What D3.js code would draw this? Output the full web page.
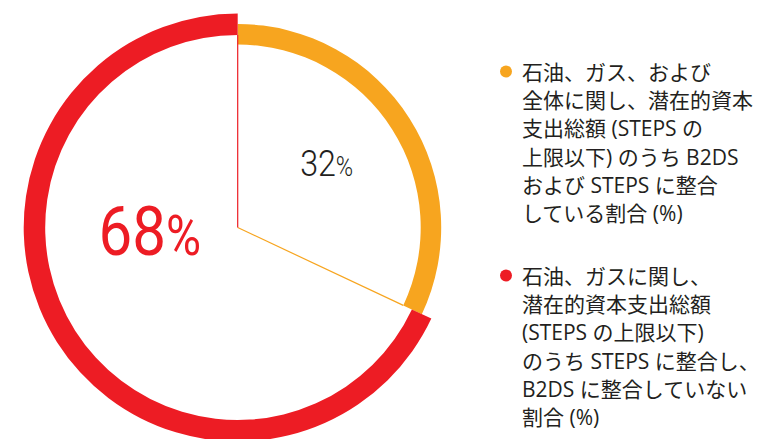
<!DOCTYPE html>
<html>
<head>
<meta charset="utf-8">
<script src="https://cdn.jsdelivr.net/npm/d3@7/dist/d3.min.js"></script>
<style>
  html, body { margin: 0; padding: 0; background: #fff; }
  svg { display: block; }
  .legend text { font-family: "Open Sans", "Noto Sans CJK JP", sans-serif; font-size: 21px; fill: #231f20; }
  .pct { font-family: Roboto, "Liberation Sans", sans-serif; }
</style>
</head>
<body>
<div id="chart"></div>
<script>
// data
var categories = ["B2DS+STEPS", "STEPS only"];
var values = [32, 68];
var colors = ["#f7a51f", "#ed1c24"];
var legendLines = [
  ["石油、ガス、および", "全体に関し、潜在的資本", "支出総額 (STEPS の", "上限以下) のうち B2DS", "および STEPS に整合", "している割合 (%)"],
  ["石油、ガスに関し、", "潜在的資本支出総額", "(STEPS の上限以下)", "のうち STEPS に整合し、", "B2DS に整合していない", "割合 (%)"]
];

const width = 762, height = 439;
const cx = 237.7, cy = 227.5;
// ring radii per slice [inner, outer]
const rings = [[183, 203.5], [192.5, 214]];
// label placement (angle in degrees from north, radius, font sizes, colour)
const labelPos = [
  { ang: 54, r: 110, big: 37, small: 27, weight: 300, fill: "#231f20" },
  { ang: 268, r: 88, big: 69, small: 55, weight: 400, fill: "#ed1c24" }
];

const svg = d3.select("#chart").append("svg")
  .attr("width", width)
  .attr("height", height);

const g = svg.append("g")
  .attr("transform", "translate(" + cx + "," + cy + ")");

const pie = d3.pie().sort(null).value(function(d) { return d; });
const arcs = pie(values);

// thick outer rings
g.selectAll("path.ring")
  .data(arcs)
  .enter()
  .append("path")
  .attr("class", "ring")
  .attr("fill", function(d, i) { return colors[i]; })
  .attr("d", function(d, i) {
    return d3.arc().innerRadius(rings[i][0]).outerRadius(rings[i][1])(d);
  });

// thin radial line at the end of each slice
g.selectAll("line.spoke")
  .data(arcs)
  .enter()
  .append("line")
  .attr("class", "spoke")
  .attr("stroke", function(d, i) { return colors[i]; })
  .attr("stroke-width", 1.2)
  .attr("x1", 0).attr("y1", 0)
  .attr("x2", function(d, i) { return Math.sin(d.endAngle) * rings[i][0]; })
  .attr("y2", function(d, i) { return -Math.cos(d.endAngle) * rings[i][0]; });

// percentage labels (condensed look via horizontal scale)
var lbl = g.selectAll("text.pct")
  .data(arcs)
  .enter()
  .append("text")
  .attr("class", "pct")
  .attr("text-anchor", "middle")
  .attr("fill", function(d, i) { return labelPos[i].fill; })
  .style("font-weight", function(d, i) { return labelPos[i].weight; })
  .attr("transform", function(d, i) {
    var p = labelPos[i], a = p.ang * Math.PI / 180;
    return "translate(" + (Math.sin(a) * p.r) + "," + (-Math.cos(a) * p.r + p.big * 0.36) + ") scale(0.87,1)";
  });

lbl.append("tspan")
  .style("font-size", function(d, i) { return labelPos[i].big + "px"; })
  .text(function(d) { return d.data; });
lbl.append("tspan")
  .style("font-size", function(d, i) { return labelPos[i].small + "px"; })
  .text("%");

// legend
const legend = svg.append("g").attr("class", "legend")
  .attr("transform", "translate(506,0)");
const legendTop = [72.5, 276.5];
const lineH = 28.2;

var items = legend.selectAll("g.item")
  .data(categories)
  .enter()
  .append("g")
  .attr("class", "item")
  .attr("transform", function(d, i) { return "translate(0," + legendTop[i] + ")"; });

items.append("circle")
  .attr("cx", 0)
  .attr("cy", -1)
  .attr("r", 6)
  .attr("fill", function(d, i) { return colors[i]; });

items.each(function(d, i) {
  d3.select(this).selectAll("text")
    .data(legendLines[i])
    .enter()
    .append("text")
    .attr("x", 16)
    .attr("y", function(t, j) { return j * lineH + 7.5; })
    .text(function(t) { return t; });
});
</script>
</body>
</html>
